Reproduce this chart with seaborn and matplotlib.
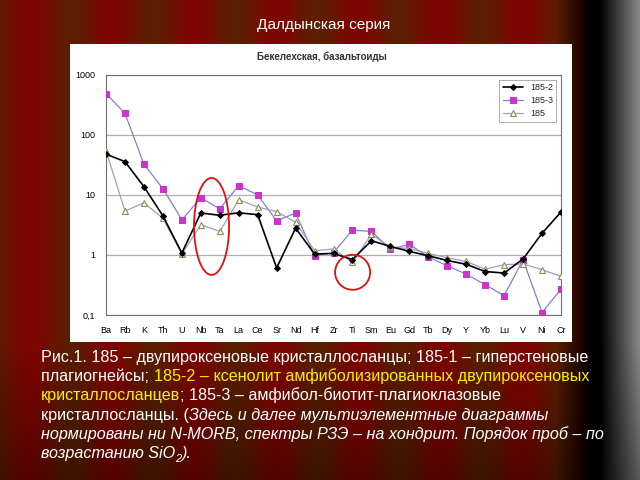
import numpy as np
import pandas as pd
import matplotlib
matplotlib.use("Agg")
import matplotlib.pyplot as plt
from matplotlib.patches import Ellipse
from matplotlib.ticker import FixedLocator, FixedFormatter
import seaborn as sns

# --- data (N-MORB normalised) ---
elements = ["Ba", "Rb", "K", "Th", "U", "Nb", "Ta", "La", "Ce", "Sr", "Nd", "Hf", "Zr",
            "Ti", "Sm", "Eu", "Gd", "Tb", "Dy", "Y", "Yb", "Lu", "V", "Ni", "Cr"]
s185_2 = [48, 36, 13.8, 4.5, 1.08, 5.0, 4.6, 5.05, 4.7, 0.61, 2.8, 1.04, 1.06,
          0.84, 1.73, 1.39, 1.15, 0.97, 0.81, 0.70, 0.53, 0.50, 0.86, 2.3, 5.2]
s185_3 = [490, 230, 32.5, 12.8, 3.86, 9.0, 5.9, 14.3, 10.0, 3.7, 5.0, 0.97, 1.1,
          2.6, 2.47, 1.26, 1.5, 0.93, 0.66, 0.48, 0.32, 0.21, 0.83, 0.11, 0.27]
s185 = [55, 5.4, 7.4, 4.1, 1.04, 3.2, 2.47, 8.3, 6.3, 5.3, 3.5, 1.18, 1.26,
        0.75, 2.2, 1.34, 1.29, 1.06, 0.9, 0.78, 0.58, 0.69, 0.71, 0.57, 0.44]
ytick_vals = [0.1, 1, 10, 100, 1000]
ytick_labels = ["0,1", "1", "10", "100", "1000"]

sns.set_style("white")
plt.rcParams["font.family"] = ["Liberation Sans", "DejaVu Sans"]

fig = plt.figure(figsize=(6.4, 4.8), dpi=100)

# curtain-like background
w, h = 640, 480
xx = np.arange(w)
mix = 0.5 + 0.5 * np.cos(2 * np.pi * (xx - 30) / 82.0)
red = np.array([0.50, 0.02, 0.0])
brown = np.array([0.36, 0.12, 0.0])
cols = mix[:, None] * red + (1 - mix[:, None]) * brown
fade = np.clip((xx - 555) / 35.0, 0, 1)
cols = cols * (1 - fade[:, None])
gray = np.clip((xx - 600) / 40.0, 0, 1) * 0.55
cols = cols + gray[:, None]
yy = np.arange(h)
dark = 1 - 0.35 * np.clip((yy - 340) / 140.0, 0, 1)
img = dark[:, None, None] * cols[None, :, :]
bg = fig.add_axes([0, 0, 1, 1])
bg.imshow(np.clip(img, 0, 1), aspect="auto", extent=[0, 1, 0, 1])
bg.set_axis_off()

fig.text(0.505, 1 - 25 / 480, "Далдынская серия", color="white", fontsize=11,
         ha="center", va="center")

# white chart panel
panel = fig.add_axes([70 / 640, 1 - 342 / 480, 502 / 640, 298 / 480])
panel.set_facecolor("white")
panel.set_xticks([])
panel.set_yticks([])
for sp in panel.spines.values():
    sp.set_visible(False)
fig.text(0.503, 1 - 57 / 480, "Бекелехская, базальтоиды", fontsize=7,
         fontweight="bold", color="#333333", ha="center", va="center")

ax = fig.add_axes([106 / 640, 1 - 315 / 480, 455 / 640, 240 / 480])
ax.set_facecolor("white")
pos = np.arange(len(elements))

sns.lineplot(x=pos, y=s185_2, ax=ax, color="black", linewidth=1.2, marker="D",
             markersize=3, markerfacecolor="black", markeredgecolor="black",
             label="185-2", zorder=4)
sns.lineplot(x=pos, y=s185_3, ax=ax, color="#8080d8", linewidth=0.9, marker="s",
             markersize=4, markerfacecolor="#cc33cc", markeredgecolor="#cc33cc",
             label="185-3", zorder=3)
sns.lineplot(x=pos, y=s185, ax=ax, color="#9aa0c8", linewidth=0.9, marker="^",
             markersize=4.5, markerfacecolor="#ffffe0", markeredgecolor="#8a8a60",
             markeredgewidth=0.8, label="185", zorder=3)

ax.set_yscale("log")
ax.set_ylim(0.1, 1000)
ax.set_xlim(0, len(elements) - 1)
ax.yaxis.set_major_locator(FixedLocator(ytick_vals))
ax.yaxis.set_major_formatter(FixedFormatter(ytick_labels))
ax.set_xticks(pos)
ax.set_xticklabels(elements)
ax.tick_params(axis="both", labelsize=6.5, colors="black", length=3, width=0.6,
               direction="out", pad=5)
ax.tick_params(axis="y", which="minor", length=2, width=0.5, direction="in")
ax.tick_params(axis="y", which="major", direction="inout", length=5)
ax.grid(axis="y", which="major", color="#b0b0b0", linewidth=0.9)
for sp in ax.spines.values():
    sp.set_color("#707070")
    sp.set_linewidth(0.8)
ax.set_xlabel("")
ax.set_ylabel("")

leg = ax.legend(loc="upper right", fontsize=6.5, frameon=True, fancybox=False,
                edgecolor="#888888", borderaxespad=0.5, handlelength=2.2,
                labelspacing=0.45)
leg.get_frame().set_linewidth(0.6)

# red highlight shapes
ax.add_patch(Ellipse((0.232, 0.369), 0.077, 0.404, transform=ax.transAxes,
                     fill=False, edgecolor="#e01010", linewidth=1.3, zorder=5))
ax.add_patch(Ellipse((0.542, 0.178), 0.077, 0.146, transform=ax.transAxes,
                     fill=False, edgecolor="#e01010", linewidth=1.3, zorder=5))

# caption with mixed colours / styles
yellow = "#ffee00"
fs = 11.6
lines = [
    [("Рис.1. 185 – двупироксеновые кристаллосланцы; 185-1 – гиперстеновые", "white", "normal")],
    [("плагиогнейсы; ", "white", "normal"),
     ("185-2 – ксенолит амфиболизированных двупироксеновых", yellow, "normal")],
    [("кристаллосланцев", yellow, "normal"),
     ("; 185-3 – амфибол-биотит-плагиоклазовые", "white", "normal")],
    [("кристаллосланцы. (", "white", "normal"),
     ("Здесь и далее мультиэлементные диаграммы", "white", "italic")],
    [("нормированы ни N-MORB, спектры РЗЭ – на хондрит. Порядок проб – по", "white", "italic")],
    [("возрастанию SiO", "white", "italic")],
]
x0 = 41 / 640
for i, parts in enumerate(lines):
    ybase = 1 - (362 + i * 19.2) / 480
    prev = None
    for txt, col, sty in parts:
        if prev is None:
            prev = fig.text(x0, ybase, txt, color=col, fontsize=fs, style=sty,
                            ha="left", va="baseline")
        else:
            prev = fig.add_artist(plt.Annotation(
                txt, xy=(1, ybase), xycoords=(prev, "figure fraction"),
                color=col, fontsize=fs, style=sty, ha="left", va="baseline",
                annotation_clip=False))
    if i == len(lines) - 1:
        sub = fig.add_artist(plt.Annotation(
            "2", xy=(1, ybase - 4 / 480), xycoords=(prev, "figure fraction"),
            color="white", fontsize=8, style="italic", ha="left", va="baseline",
            annotation_clip=False))
        fig.add_artist(plt.Annotation(
            ").", xy=(1, ybase), xycoords=(sub, "figure fraction"),
            color="white", fontsize=fs, style="italic", ha="left", va="baseline",
            annotation_clip=False))

fig.savefig("out.png", dpi=100)
